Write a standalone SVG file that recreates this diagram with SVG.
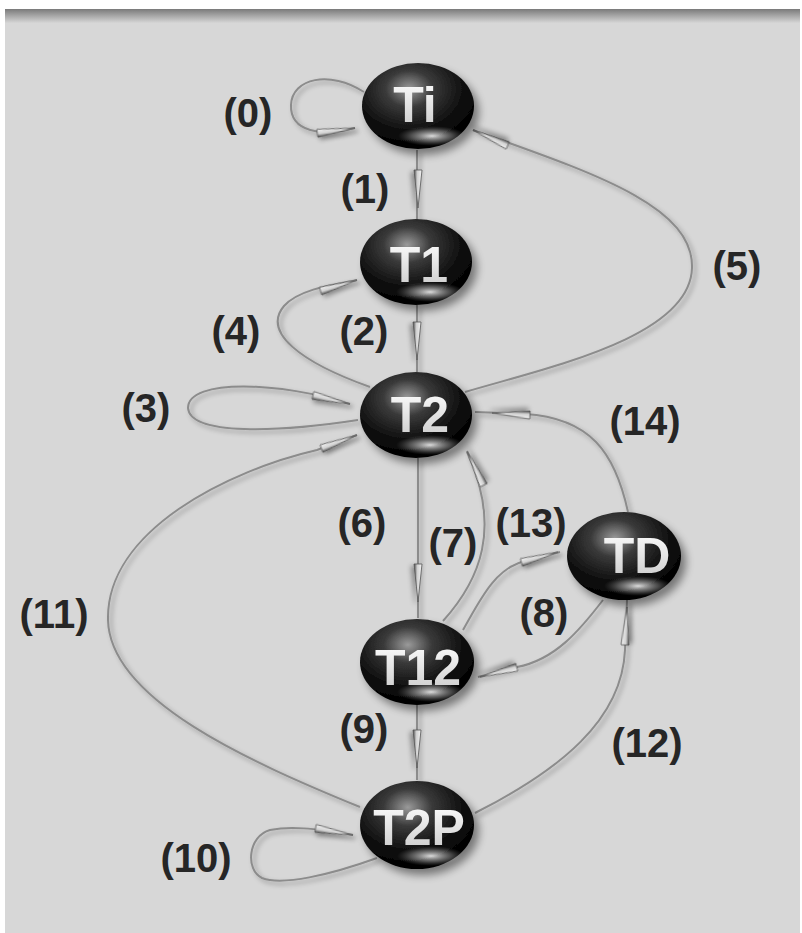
<svg xmlns="http://www.w3.org/2000/svg" xmlns:xlink="http://www.w3.org/1999/xlink" width="802" height="933" viewBox="0 0 802 933">
<defs>
<style>
.lbl{font-family:"Liberation Sans",Arial,sans-serif;font-weight:bold;font-size:40px;fill:#262626;text-anchor:middle}
.ntx{font-family:"Liberation Sans",Arial,sans-serif;font-weight:bold;font-size:50px;fill:url(#txtg);text-anchor:middle}
.edge{fill:none;stroke:#8c8c8c;stroke-width:2;filter:url(#lsh)}
.body{fill:url(#ballg);filter:url(#nsh)}
.shine{fill:url(#shineg)}
</style>
<linearGradient id="topg" x1="0" y1="0" x2="0" y2="1">
<stop offset="0" stop-color="#7a7a7a"/>
<stop offset="1" stop-color="#d6d6d6"/>
</linearGradient>
<radialGradient id="ballg" cx="0.42" cy="0.3" r="0.7">
<stop offset="0" stop-color="#9a9a9a"/>
<stop offset="0.3" stop-color="#3a3a3a"/>
<stop offset="0.7" stop-color="#0e0e0e"/>
<stop offset="1" stop-color="#000"/>
</radialGradient>
<radialGradient id="shineg" cx="0.5" cy="0.5" r="0.5">
<stop offset="0" stop-color="#fff" stop-opacity="0.85"/>
<stop offset="0.6" stop-color="#ccc" stop-opacity="0.35"/>
<stop offset="1" stop-color="#888" stop-opacity="0"/>
</radialGradient>
<linearGradient id="txtg" x1="0" y1="0" x2="0" y2="1">
<stop offset="0" stop-color="#ffffff"/>
<stop offset="1" stop-color="#c8c8c8"/>
</linearGradient>
<linearGradient id="ahg" x1="0" y1="0" x2="0" y2="1">
<stop offset="0" stop-color="#f4f4f4"/>
<stop offset="0.6" stop-color="#cfcfcf"/>
<stop offset="1" stop-color="#444"/>
</linearGradient>
<filter id="nsh" x="-30%" y="-30%" width="170%" height="170%">
<feGaussianBlur in="SourceAlpha" stdDeviation="4"/>
<feOffset dx="5" dy="6" result="b"/>
<feComponentTransfer><feFuncA type="linear" slope="0.45"/></feComponentTransfer>
<feMerge><feMergeNode/><feMergeNode in="SourceGraphic"/></feMerge>
</filter>
<filter id="lsh" filterUnits="userSpaceOnUse" x="0" y="0" width="802" height="933">
<feGaussianBlur in="SourceAlpha" stdDeviation="2.5"/>
<feOffset dx="3" dy="3"/>
<feComponentTransfer><feFuncA type="linear" slope="0.35"/></feComponentTransfer>
<feMerge><feMergeNode/><feMergeNode in="SourceGraphic"/></feMerge>
</filter>
<filter id="ash" x="-60%" y="-250%" width="220%" height="600%">
<feGaussianBlur in="SourceAlpha" stdDeviation="2.5"/>
<feOffset dx="2" dy="3"/>
<feComponentTransfer><feFuncA type="linear" slope="0.35"/></feComponentTransfer>
<feMerge><feMergeNode/><feMergeNode in="SourceGraphic"/></feMerge>
</filter>
<path id="ah" d="M0,0 L-38,-4 L-38,4 Z" fill="url(#ahg)" stroke="#555" stroke-width="0.8" filter="url(#ash)"/>
</defs>

<rect x="0" y="0" width="802" height="933" fill="#ffffff"/>
<rect x="5" y="9" width="795" height="924" fill="#d7d7d7"/>
<rect x="5" y="9" width="795" height="14" fill="url(#topg)"/>

<g id="connectors">
<!-- (0) Ti self loop -->
<path class="edge" d="M364,92 C330,70 292,78 291,105 C290,132 322,137 355,128"/>
<use xlink:href="#ah" href="#ah" transform="translate(355,128) rotate(-8)"/>
<!-- (1) Ti -> T1 -->
<path class="edge" d="M417,150 L417,220"/>
<use xlink:href="#ah" href="#ah" transform="translate(418,208) rotate(90)"/>
<!-- (2) T1 -> T2 -->
<path class="edge" d="M417,305 L417,372"/>
<use xlink:href="#ah" href="#ah" transform="translate(417,360) rotate(90)"/>
<!-- (4) T2 -> T1 -->
<path class="edge" d="M370,387 C300,362 262,332 284,306 C298,290 330,285 357,280"/>
<use xlink:href="#ah" href="#ah" transform="translate(357,280) rotate(-17)"/>
<!-- (3) T2 self loop -->
<path class="edge" d="M358,420 C280,432 190,436 188,408 C188,378 282,382 350,404"/>
<use xlink:href="#ah" href="#ah" transform="translate(350,404) rotate(13)"/>
<!-- (5) T2 -> Ti -->
<path class="edge" d="M465,392 C545,368 690,338 692,268 C694,205 590,172 473,130"/>
<use xlink:href="#ah" href="#ah" transform="translate(473,130) rotate(-156)"/>
<!-- (14) TD -> T2 -->
<path class="edge" d="M628,512 C615,452 590,418 525,414 L475,412"/>
<use xlink:href="#ah" href="#ah" transform="translate(492,413) rotate(183)"/>
<!-- (6) T2 -> T12 -->
<path class="edge" d="M418,458 L418,618"/>
<use xlink:href="#ah" href="#ah" transform="translate(418,602) rotate(90)"/>
<!-- (7) T12 -> T2 -->
<path class="edge" d="M443,621 C480,580 502,528 467,452"/>
<use xlink:href="#ah" href="#ah" transform="translate(467,451) rotate(-116)"/>
<!-- (13) T12 -> TD -->
<path class="edge" d="M463,630 C480,600 495,568 525,561 L560,552"/>
<use xlink:href="#ah" href="#ah" transform="translate(558,552) rotate(-16)"/>
<!-- (8) TD -> T12 -->
<path class="edge" d="M603,600 C580,630 555,660 517,667 L478,677"/>
<use xlink:href="#ah" href="#ah" transform="translate(480,677) rotate(165)"/>
<!-- (12) T2P -> TD -->
<path class="edge" d="M475,813 C560,770 622,720 625,650 L627,600"/>
<use xlink:href="#ah" href="#ah" transform="translate(627,607) rotate(-87)"/>
<!-- (9) T12 -> T2P -->
<path class="edge" d="M417,705 L417,780"/>
<use xlink:href="#ah" href="#ah" transform="translate(417,768) rotate(90)"/>
<!-- (11) T2P -> T2 -->
<path class="edge" d="M360,807 C250,762 110,700 108,620 C106,530 230,470 317,450 L357,435"/>
<use xlink:href="#ah" href="#ah" transform="translate(357,435) rotate(-21)"/>
<!-- (10) T2P self loop -->
<path class="edge" d="M377,858 C330,875 282,886 262,878 C245,870 248,836 270,830 C290,826 312,828 353,835"/>
<use xlink:href="#ah" href="#ah" transform="translate(353,835) rotate(10)"/>
</g>

<g id="labels">
<text class="lbl" x="248" y="127">(0)</text>
<text class="lbl" x="365" y="203">(1)</text>
<text class="lbl" x="737" y="280">(5)</text>
<text class="lbl" x="236" y="345">(4)</text>
<text class="lbl" x="364" y="345">(2)</text>
<text class="lbl" x="146" y="422">(3)</text>
<text class="lbl" x="645" y="435">(14)</text>
<text class="lbl" x="362" y="537">(6)</text>
<text class="lbl" x="453" y="557">(7)</text>
<text class="lbl" x="531" y="537">(13)</text>
<text class="lbl" x="54" y="628">(11)</text>
<text class="lbl" x="544" y="627">(8)</text>
<text class="lbl" x="364" y="743">(9)</text>
<text class="lbl" x="647" y="757">(12)</text>
<text class="lbl" x="196" y="872">(10)</text>
</g>

<g id="node-Ti">
<ellipse class="body" cx="418" cy="106" rx="56" ry="43"/>
<ellipse class="shine" cx="432" cy="136" rx="34" ry="10"/>
<text class="ntx" x="415" y="122">Ti</text>
</g>
<g id="node-T1">
<ellipse class="body" cx="416" cy="262" rx="56" ry="43"/>
<ellipse class="shine" cx="430" cy="292" rx="34" ry="10"/>
<text class="ntx" x="419" y="282">T1</text>
</g>
<g id="node-T2">
<ellipse class="body" cx="416" cy="415" rx="56" ry="43"/>
<ellipse class="shine" cx="430" cy="445" rx="34" ry="10"/>
<text class="ntx" x="420" y="432">T2</text>
</g>
<g id="node-TD">
<ellipse class="body" cx="624" cy="556" rx="57" ry="44"/>
<ellipse class="shine" cx="638" cy="586" rx="34" ry="10"/>
<text class="ntx" x="637" y="573">TD</text>
</g>
<g id="node-T12">
<ellipse class="body" cx="417" cy="662" rx="57" ry="43"/>
<ellipse class="shine" cx="431" cy="692" rx="34" ry="10"/>
<text class="ntx" x="418" y="685">T12</text>
</g>
<g id="node-T2P">
<ellipse class="body" cx="417" cy="825" rx="57" ry="44"/>
<ellipse class="shine" cx="431" cy="856" rx="34" ry="10"/>
<text class="ntx" x="419" y="845">T2P</text>
</g>
</svg>
